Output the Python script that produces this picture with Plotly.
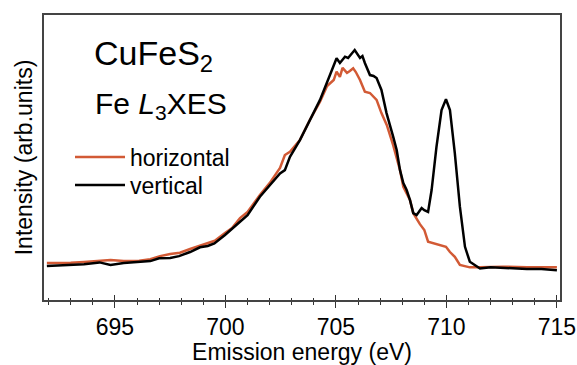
import plotly.graph_objects as go

# Emission energy (eV) and normalised intensity
energy_vertical = [691.92, 692.5, 693.0, 693.6, 694.3, 694.8, 695.4, 696.1, 696.6, 697.0,
                   697.5, 697.9, 698.4, 698.85, 699.2, 699.5, 699.98, 700.66, 701.0, 701.56,
                   702.0, 702.47, 702.69, 702.92, 703.37, 703.82, 704.28, 704.73, 704.9, 705.03,
                   705.18, 705.41, 705.55, 705.78, 705.85, 706.09, 706.2, 706.31, 706.54, 706.7,
                   706.84, 707.06, 707.29, 707.59, 707.75, 707.9, 708.05, 708.2, 708.35, 708.5,
                   708.65, 708.75, 708.88, 709.0, 709.17, 709.33, 709.55, 709.78, 709.98, 710.16,
                   710.38, 710.61, 710.84, 711.06, 711.52, 712.0, 712.56, 713.1, 713.64, 714.3,
                   715.0]
intensity_vertical = [0.000, 0.002, 0.005, 0.009, 0.017, 0.005, 0.014, 0.019, 0.023, 0.036,
                      0.037, 0.046, 0.065, 0.087, 0.093, 0.105, 0.144, 0.205, 0.236, 0.321,
                      0.375, 0.429, 0.444, 0.506, 0.583, 0.676, 0.769, 0.884, 0.926, 0.962,
                      0.940, 0.969, 0.963, 0.992, 1.000, 0.963, 0.972, 0.940, 0.884, 0.880,
                      0.870, 0.815, 0.708, 0.599, 0.537, 0.444, 0.384, 0.352, 0.306, 0.245,
                      0.236, 0.250, 0.269, 0.259, 0.251, 0.352, 0.552, 0.722, 0.772, 0.722,
                      0.523, 0.275, 0.089, 0.020, -0.011, -0.005, -0.009, -0.012, -0.014, -0.014,
                      -0.019]

energy_horizontal = [691.92, 692.5, 693.0, 693.6, 694.3, 694.8, 695.4, 696.1, 696.6, 697.04,
                     697.5, 697.94, 698.4, 698.85, 699.2, 699.52, 699.98, 700.3, 700.66, 701.0,
                     701.56, 702.0, 702.47, 702.69, 702.92, 703.37, 703.82, 704.28, 704.6, 704.9,
                     705.03, 705.18, 705.3, 705.5, 705.63, 705.78, 705.9, 706.09, 706.31, 706.54,
                     706.84, 707.06, 707.3, 707.59, 707.9, 708.05, 708.35, 708.5, 708.8, 709.0,
                     709.17, 709.4, 709.55, 709.8, 709.98, 710.16, 710.38, 710.61, 710.84, 711.06,
                     711.5, 712.56, 713.64, 715.0]
intensity_horizontal = [0.014, 0.014, 0.015, 0.019, 0.025, 0.028, 0.023, 0.025, 0.032, 0.046,
                        0.056, 0.062, 0.079, 0.093, 0.106, 0.117, 0.153, 0.176, 0.222, 0.250,
                        0.329, 0.384, 0.454, 0.514, 0.529, 0.583, 0.676, 0.761, 0.833, 0.861,
                        0.900, 0.876, 0.917, 0.894, 0.903, 0.915, 0.898, 0.861, 0.807, 0.801,
                        0.769, 0.708, 0.653, 0.560, 0.444, 0.367, 0.306, 0.245, 0.194, 0.167,
                        0.113, 0.106, 0.105, 0.097, 0.089, 0.065, 0.043, 0.005, -0.002, -0.006,
                        -0.005, -0.003, -0.005, -0.006]

x_range = [691.79, 715.14]
y_range = [-0.157, 1.162]
series_names = ["horizontal", "vertical"]
series_colors = ["#D25A35", "#000000"]

FONT = "Liberation Sans, Arial, sans-serif"

fig = go.Figure()
fig.add_trace(go.Scatter(x=energy_horizontal, y=intensity_horizontal, mode="lines",
                         name=series_names[0], line=dict(color=series_colors[0], width=2.5),
                         legend="legend"))
fig.add_trace(go.Scatter(x=energy_vertical, y=intensity_vertical, mode="lines",
                         name=series_names[1], line=dict(color=series_colors[1], width=2.5),
                         legend="legend2"))
# helper trace for the inner half of the crossing ticks
fig.add_trace(go.Scatter(x=[None], y=[None], xaxis="x2", yaxis="y", showlegend=False,
                         hoverinfo="skip"))

legend_style = dict(xanchor="left", yanchor="middle", bgcolor="rgba(0,0,0,0)",
                    font=dict(size=23, family=FONT), itemwidth=50)

fig.update_layout(
    width=577, height=365,
    margin=dict(l=44, r=17, t=15, b=65),
    paper_bgcolor="white", plot_bgcolor="white",
    font=dict(family=FONT, color="#000000", size=23),
    showlegend=True,
    legend=dict(x=0.0504, y=0.502, **legend_style),
    legend2=dict(x=0.0504, y=0.4035, **legend_style),
    xaxis=dict(range=x_range, showgrid=False, zeroline=False, automargin=False,
               showline=True, linecolor="#444444", linewidth=1.5, mirror=True,
               ticks="outside", ticklen=6, tickwidth=1.2, tickcolor="#333333",
               tick0=695, dtick=5,
               minor=dict(ticks="outside", ticklen=3, tickwidth=1.2, tickcolor="#333333",
                          dtick=1, tick0=692, showgrid=False),
               tickfont=dict(size=23, family=FONT), ticklabelstandoff=0,
               title=dict(text="Emission energy (eV)", font=dict(size=23, family=FONT),
                          standoff=0)),
    xaxis2=dict(range=x_range, overlaying="x", anchor="y", side="bottom",
                showgrid=False, zeroline=False, showline=False, showticklabels=False,
                ticks="inside", ticklen=5, tickwidth=1.2, tickcolor="#333333",
                tick0=695, dtick=5,
                minor=dict(ticks="inside", ticklen=2, tickwidth=1.2, tickcolor="#333333",
                           dtick=1, tick0=692, showgrid=False)),
    yaxis=dict(range=y_range, showgrid=False, zeroline=False, showticklabels=False,
               ticks="", showline=True, linecolor="#444444", linewidth=1.5, mirror=True,
               automargin=False,
               title=dict(text="Intensity (arb.units)", font=dict(size=23, family=FONT),
                          standoff=3)),
)

fig.add_annotation(xref="paper", yref="paper", x=0.0926, y=0.775, xanchor="left",
                   yanchor="bottom", showarrow=False,
                   text="CuFeS<sub>2</sub>", font=dict(size=34, family=FONT))
fig.add_annotation(xref="paper", yref="paper", x=0.0947, y=0.609, xanchor="left",
                   yanchor="bottom", showarrow=False,
                   text="Fe <i>L</i><sub>3</sub>XES", font=dict(size=30, family=FONT))

fig.write_html("out.html", config={"displayModeBar": False},
               post_script="document.body.style.margin='0';")
